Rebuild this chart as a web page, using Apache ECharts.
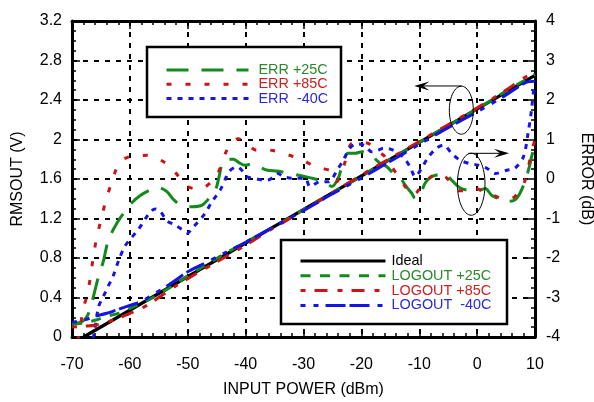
<!DOCTYPE html>
<html>
<head>
<meta charset="utf-8">
<script src="https://cdn.jsdelivr.net/npm/echarts/dist/echarts.min.js"></script>
<style>
html,body{margin:0;padding:0;background:#fff;}
#c{width:594px;height:402px;}
</style>
</head>
<body>
<div id="c"></div>
<script>
// ---- data (x = input power dBm) ----
const xTicks = [-70, -60, -50, -40, -30, -20, -10, 0, 10];
const vTicks = [0, 0.4, 0.8, 1.2, 1.6, 2, 2.4, 2.8, 3.2];
const errTicks = [-4, -3, -2, -1, 0, 1, 2, 3, 4];

const idealLine = [[-68, 0], [10, 2.65]];

const logout25 = [[-70,0.13],[-68,0.14],[-66,0.17],[-64,0.21],[-62,0.24],[-60,0.29],[-58,0.34],[-56,0.4],[-54,0.47],[-52,0.54],[-50,0.62],[-48,0.69],[-46,0.76],[-44,0.83],[-40,0.96],[-35,1.12],[-30,1.29],[-25,1.46],[-20,1.63],[-15,1.8],[-10,1.97],[-5,2.14],[0,2.31],[5,2.49],[10,2.66]];
const logout85 = [[-70,0.1],[-68,0.11],[-66,0.12],[-64,0.15],[-62,0.19],[-60,0.24],[-58,0.29],[-56,0.36],[-54,0.44],[-52,0.52],[-50,0.59],[-48,0.66],[-45,0.76],[-40,0.93],[-35,1.11],[-30,1.28],[-25,1.46],[-20,1.64],[-15,1.81],[-10,1.98],[-5,2.15],[0,2.32],[5,2.5],[8,2.62],[10,2.68]];
const logoutM40 = [[-70,0.15],[-68,0.17],[-66,0.21],[-64,0.24],[-62,0.28],[-60,0.32],[-58,0.36],[-56,0.43],[-54,0.5],[-52,0.58],[-50,0.66],[-48,0.72],[-46,0.78],[-44,0.84],[-40,0.96],[-35,1.12],[-30,1.28],[-25,1.45],[-20,1.61],[-15,1.78],[-10,1.95],[-5,2.12],[0,2.28],[5,2.45],[7,2.53],[8.5,2.58],[10,2.59]];

const err25 = [[-70,-3.65],[-68.5,-3.63],[-67.5,-3.5],[-66.8,-3.27],[-66.3,-2.98],[-65.5,-2.51],[-64.6,-2.09],[-63.7,-1.54],[-62.1,-1.08],[-61,-0.85],[-59.8,-0.62],[-58.2,-0.42],[-56.5,-0.28],[-55,-0.22],[-53.6,-0.32],[-52.4,-0.53],[-51,-0.68],[-49.2,-0.7],[-47.5,-0.66],[-46.1,-0.45],[-45.2,-0.28],[-44.6,0.05],[-44,0.42],[-43.2,0.5],[-42.1,0.5],[-41,0.4],[-40.1,0.35],[-38.7,0.38],[-37.5,0.3],[-36.4,0.23],[-34.5,0.2],[-32.3,0.14],[-31,0.1],[-29.7,0.06],[-28,0.0],[-26.3,-0.07],[-25.1,-0.19],[-24,0.02],[-23.2,0.4],[-22.3,0.65],[-21.1,0.65],[-19.9,0.69],[-18.5,0.62],[-16.8,0.4],[-15.6,0.31],[-14.2,0.1],[-13.3,0.02],[-12.2,-0.2],[-11.3,-0.36],[-10.7,-0.49],[-9.9,-0.41],[-9,-0.11],[-8,0.05],[-7,0.1],[-5.6,0.14],[-4.4,-0.03],[-3,-0.22],[-1.5,-0.28],[0.5,-0.28],[1.4,-0.24],[2.5,-0.41],[3.8,-0.5],[5.1,-0.57],[6.5,-0.53],[7.4,-0.36],[8.3,-0.05],[9,0.3],[9.4,0.56],[10,0.9]];
const err85 = [[-69,-4.1],[-68,-3.25],[-67.4,-2.95],[-66.8,-2.47],[-66.4,-2.05],[-65.8,-1.53],[-65,-1.04],[-64.2,-0.57],[-63.2,-0.11],[-61.8,0.42],[-60.2,0.56],[-58.6,0.59],[-57,0.6],[-55.3,0.52],[-54,0.42],[-52.9,0.3],[-51.5,0.05],[-50.1,-0.18],[-48.5,-0.25],[-47.1,-0.21],[-45.8,-0.05],[-44.8,0.14],[-43.5,0.65],[-42.3,0.95],[-41.3,1.02],[-40,0.9],[-38.1,0.73],[-36.5,0.74],[-35.3,0.72],[-33.5,0.65],[-31.8,0.57],[-30,0.47],[-28.5,0.35],[-26.8,0.27],[-25.1,0.19],[-24.3,-0.07],[-23,0.35],[-21.7,0.9],[-20,0.93],[-18.8,0.9],[-17.5,0.75],[-15.9,0.56],[-14.7,0.3],[-13.6,0.06],[-12.4,-0.2],[-11.3,-0.41],[-10.5,-0.35],[-9.6,-0.18],[-8,0.05],[-6.4,0.14],[-5.4,0.05],[-4.4,-0.11],[-3.2,-0.3],[-1.5,-0.3],[-0.4,-0.24],[1,-0.3],[2.8,-0.41],[4.5,-0.5],[6,-0.49],[7,-0.36],[8.3,-0.03],[9.4,0.69],[10,1.0]];
const errM40 = [[-67,-4.3],[-66.3,-4.0],[-65.4,-3.23],[-64.6,-2.98],[-63.8,-2.73],[-62.9,-2.46],[-61.9,-2.05],[-60.9,-1.71],[-59.8,-1.5],[-58.5,-1.27],[-57.3,-1.0],[-56.3,-0.81],[-55.6,-0.76],[-54.7,-0.83],[-53.6,-1.06],[-52.2,-1.16],[-51,-1.28],[-50.1,-1.37],[-49,-1.21],[-47.2,-0.91],[-45.8,-0.57],[-44.4,-0.28],[-43.5,0.0],[-42.8,0.2],[-41.5,0.31],[-40.5,0.2],[-39.8,0.06],[-38,0.0],[-36.9,-0.03],[-35.8,-0.01],[-34.4,0.14],[-33.5,0.06],[-32,0.02],[-29.7,0.02],[-28.9,-0.19],[-27.2,-0.07],[-25.7,-0.07],[-24,0.27],[-23.1,0.48],[-22,0.78],[-20.8,0.89],[-19.5,0.85],[-18.2,0.69],[-17.1,0.73],[-16.2,0.78],[-14.5,0.73],[-12.8,0.56],[-11.6,0.31],[-10.7,0.06],[-9.6,0.27],[-8.4,0.56],[-7,0.78],[-5.8,0.86],[-4.4,0.65],[-3,0.48],[-1.5,0.4],[0.2,0.35],[1.7,0.27],[3.1,0.14],[5.1,0.22],[6.5,0.27],[8,0.56],[8.8,1.16],[9.4,1.75],[9.7,2.17],[10,2.4]];

// annotation anchors (data coordinates: dBm, V)
const ellipseTopCenter = [-2.73, 2.297];
const arrowLeft = [[-2.66, 2.542], [-10.86, 2.542]];
const ellipseBottomCenter = [-1.02, 1.547];
const arrowRight = [[-1.53, 1.86], [5.51, 1.86]];

// ---- styles ----
const GREEN = '#138a1c', RED = '#cc1414', BLUE = '#1414e6';
const GREEN_T = '#2a8a2a', RED_T = '#cc2222', BLUE_T = '#2a2ae0';
const FONT = '"Liberation Sans", Arial, Helvetica, sans-serif';

const chart = echarts.init(document.getElementById('c'));

const axisCommon = {
  axisLine: { show: true, onZero: false, lineStyle: { color: '#000', width: 3 } },
  axisTick: { show: true, inside: true, length: 8, lineStyle: { color: '#000', width: 1.5 } },
  minorTick: { show: true, length: 4, lineStyle: { color: '#000', width: 1.5 } },
  axisLabel: { color: '#000', fontSize: 16, fontFamily: FONT },
  nameTextStyle: { color: '#000', fontSize: 16, fontFamily: FONT }
};
const gridDash = { show: true, lineStyle: { color: '#000', width: 2, type: [5, 6] } };

function lineSeries(name, data, yIdx, color, width, dash, z) {
  return {
    name, type: 'line', data, xAxisIndex: 0, yAxisIndex: yIdx,
    showSymbol: false, symbol: 'none', smooth: 0.3, z,
    lineStyle: { color, width, type: dash },
    itemStyle: { color }
  };
}
const hiddenSymbol = { color: 'transparent', borderColor: 'transparent', borderWidth: 0, opacity: 0 };

const option = {
  animation: false,
  backgroundColor: '#fff',
  grid: { left: 72, right: 59, top: 21, bottom: 65, containLabel: false, outerBoundsMode: 'none' },
  xAxis: [
    Object.assign({}, axisCommon, {
      type: 'value', position: 'bottom', min: xTicks[0], max: xTicks[xTicks.length - 1], interval: 10,
      minorTick: Object.assign({}, axisCommon.minorTick, { splitNumber: 5 }),
      axisLabel: Object.assign({}, axisCommon.axisLabel, { margin: 20 }),
      splitLine: gridDash,
      name: 'INPUT POWER (dBm)', nameLocation: 'middle', nameGap: 45
    }),
    Object.assign({}, axisCommon, {
      type: 'value', position: 'top', min: xTicks[0], max: xTicks[xTicks.length - 1], interval: 10,
      minorTick: Object.assign({}, axisCommon.minorTick, { splitNumber: 5 }),
      axisLabel: { show: false }, splitLine: { show: false }
    })
  ],
  yAxis: [
    Object.assign({}, axisCommon, {
      type: 'value', position: 'left', min: vTicks[0], max: vTicks[vTicks.length - 1], interval: 0.4,
      minorTick: Object.assign({}, axisCommon.minorTick, { splitNumber: 4 }),
      axisLabel: Object.assign({}, axisCommon.axisLabel, { margin: 10 }),
      splitLine: gridDash,
      name: 'RMSOUT (V)', nameLocation: 'middle', nameGap: 46, nameRotate: 90
    }),
    Object.assign({}, axisCommon, {
      type: 'value', position: 'right', min: errTicks[0], max: errTicks[errTicks.length - 1], interval: 1,
      minorTick: Object.assign({}, axisCommon.minorTick, { splitNumber: 4 }),
      axisLabel: Object.assign({}, axisCommon.axisLabel, { margin: 11 }),
      splitLine: { show: false },
      name: 'ERROR (dB)', nameLocation: 'middle', nameGap: 43, nameRotate: -90
    })
  ],
  legend: [
    {
      z: 200,
      left: 147, top: 47, orient: 'vertical', selectedMode: false,
      itemWidth: 82, itemHeight: 14, itemGap: 0.3, padding: [16, 0, 0, 18],
      textStyle: { fontSize: 14.4, fontFamily: FONT, padding: [0, 0, 0, 5] },
      lineStyle: { width: 3 },
      itemStyle: hiddenSymbol,
      data: [
        { name: 'ERR +25C', textStyle: { color: GREEN_T } },
        { name: 'ERR +85C', textStyle: { color: RED_T } },
        { name: 'ERR  -40C', textStyle: { color: BLUE_T } }
      ]
    },
    {
      z: 200,
      left: 281, top: 240, orient: 'vertical', selectedMode: false,
      itemWidth: 85, itemHeight: 14, itemGap: 0.8, padding: [14, 0, 0, 18],
      textStyle: { fontSize: 14.4, fontFamily: FONT, padding: [0, 0, 0, 1] },
      lineStyle: { width: 3 },
      itemStyle: hiddenSymbol,
      data: [
        { name: 'Ideal', textStyle: { color: '#000' } },
        { name: 'LOGOUT +25C', textStyle: { color: GREEN_T } },
        { name: 'LOGOUT +85C', textStyle: { color: RED_T } },
        { name: 'LOGOUT  -40C', textStyle: { color: BLUE_T } }
      ]
    }
  ],
  series: [
    lineSeries('ERR +25C', err25, 1, GREEN, 3, [22, 13], 3),
    lineSeries('ERR +85C', err85, 1, RED, 3, [5, 14], 3),
    lineSeries('ERR  -40C', errM40, 1, BLUE, 3, [5, 6], 3),
    Object.assign(lineSeries('Ideal', idealLine, 0, '#000', 3.2, 'solid', 4), { smooth: false }),
    lineSeries('LOGOUT +25C', logout25, 0, GREEN, 3, [10, 9.5], 5),
    lineSeries('LOGOUT +85C', logout85, 0, RED, 3, [5, 9, 13, 10], 5),
    lineSeries('LOGOUT  -40C', logoutM40, 0, BLUE, 3, [5, 8, 5, 7, 20, 4, 20, 8], 5)
  ]
};
chart.setOption(option);

// legend boxes + annotations
function px(p) { return chart.convertToPixel({ xAxisIndex: 0, yAxisIndex: 0 }, p); }
function arrow(a, b) {
  const p0 = px(a), p1 = px(b);
  const dir = p1[0] > p0[0] ? 1 : -1;
  const hl = 15, hw = 4.5;
  return [
    { type: 'line', shape: { x1: p0[0], y1: p0[1], x2: p1[0] - dir * hl * 0.6, y2: p1[1] },
      style: { stroke: '#000', lineWidth: 1 }, z: 100 },
    { type: 'polygon', shape: { points: [[p1[0], p1[1]], [p1[0] - dir * hl, p1[1] - hw], [p1[0] - dir * hl * 0.6, p1[1]], [p1[0] - dir * hl, p1[1] + hw]] },
      style: { fill: '#000' }, z: 100 }
  ];
}
const e1 = px(ellipseTopCenter), e2 = px(ellipseBottomCenter);
const graphics = [
  { type: 'rect', shape: { x: 147, y: 47, width: 194, height: 70 },
    style: { fill: '#fff', stroke: '#000', lineWidth: 2.5 }, z: 50 },
  { type: 'rect', shape: { x: 281, y: 240, width: 226, height: 84 },
    style: { fill: '#fff', stroke: '#000', lineWidth: 2.5 }, z: 50 },
  { type: 'ellipse', shape: { cx: e1[0], cy: e1[1], rx: 12, ry: 24 },
    style: { fill: 'none', stroke: '#000', lineWidth: 1 }, z: 100 },
  { type: 'ellipse', shape: { cx: e2[0], cy: e2[1], rx: 13.8, ry: 31 },
    style: { fill: 'none', stroke: '#000', lineWidth: 1 }, z: 100 }
].concat(arrow(arrowLeft[0], arrowLeft[1]), arrow(arrowRight[0], arrowRight[1]));
chart.setOption({ graphic: graphics });
</script>
</body>
</html>
